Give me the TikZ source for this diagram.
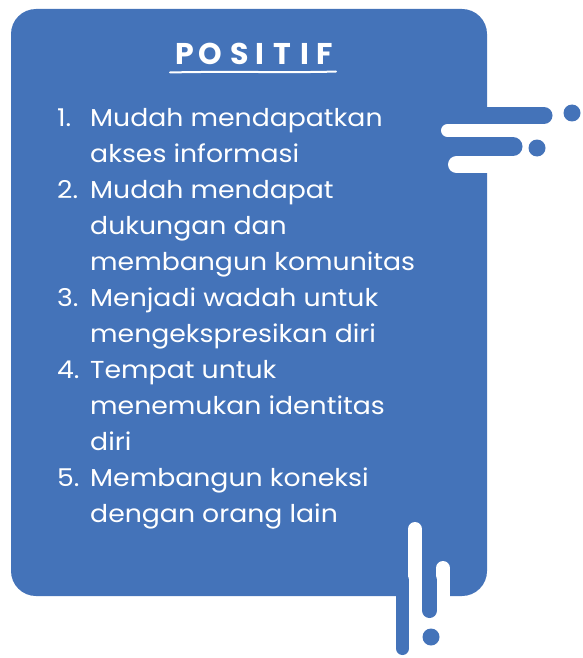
\documentclass[tikz,border=0pt]{standalone}
\usepackage{fontspec}
\setmainfont{Poppins}
\definecolor{boxblue}{RGB}{68,115,185}
\begin{document}
\begin{tikzpicture}[x=1pt,y=-1pt,
  itemtxt/.style={anchor=base west,inner sep=0pt,text=white,font=\fontsize{24.5}{28}\selectfont\addfontfeatures{FakeStretch=1.09}},
  titlel/.style={anchor=base,inner sep=0pt,text=white,font=\fontsize{30}{32}\selectfont\bfseries},
  bluebar/.style={draw=boxblue,line cap=round},
  whitebar/.style={draw=white,line cap=round}]
\useasboundingbox (0,0) rectangle (583,658);
% main box
\fill[boxblue,rounded corners=25pt] (11,9) rectangle (487,596);
% white cuts
\draw[whitebar,line width=13pt] (447.5,130.5) -- (490,130.5);
\draw[whitebar,line width=17pt] (456.5,164.5) -- (490,164.5);
\draw[whitebar,line width=14pt] (415,529) -- (415,600);
\draw[whitebar,line width=14pt] (443,568) -- (443,600);
% blue extensions
\draw[bluebar,line width=17pt] (470,115.5) coordinate (b1s) -- (544,115.5) coordinate (b1e);
\draw[bluebar,line width=19pt] (470,146.5) coordinate (b2s) -- (513,146.5) coordinate (b2e);
\draw[bluebar,line width=13pt] (402.5,580) coordinate (s1s) -- (402.5,648.5) coordinate (s1e);
\draw[bluebar,line width=15pt] (429.5,580) coordinate (s2s) -- (429.5,610.5) coordinate (s2e);
% dots
\fill[boxblue] (572,113) circle (8.5pt);
\fill[boxblue] (537,148) circle (8.5pt);
\fill[boxblue] (431,637) circle (8.5pt);
% title
\node[titlel] (t1) at (185,65) {P};
\node[titlel] (t2) at (210,65) {O};
\node[titlel] (t3) at (240,65) {S};
\node[titlel] (t4) at (259.5,65) {I};
\node[titlel] (t5) at (282.5,65) {T};
\node[titlel] (t6) at (304.5,65) {I};
\node[titlel] (t7) at (325,65) {F};
\draw[white,line width=2pt,line cap=round] (170,72.5) .. controls (230,71) and (290,73) .. (336,71.5);
% items
\node[itemtxt] (n1) at (57,126) {1.};
\node[itemtxt] (l1) at (90,126) {Mudah mendapatkan};
\node[itemtxt] (l2) at (90,162) {akses informasi};
\node[itemtxt] (n2) at (57,198) {2.};
\node[itemtxt] (l3) at (90,198) {Mudah mendapat};
\node[itemtxt] (l4) at (90,234) {dukungan dan};
\node[itemtxt] (l5) at (90,270) {membangun komunitas};
\node[itemtxt] (n3) at (57,306) {3.};
\node[itemtxt] (l6) at (90,306) {Menjadi wadah untuk};
\node[itemtxt] (l7) at (90,342) {mengekspresikan diri};
\node[itemtxt] (n4) at (57,378) {4.};
\node[itemtxt] (l8) at (90,378) {Tempat untuk};
\node[itemtxt] (l9) at (90,414) {menemukan identitas};
\node[itemtxt] (l10) at (90,450) {diri};
\node[itemtxt] (n5) at (57,486) {5.};
\node[itemtxt] (l11) at (90,486) {Membangun koneksi};
\node[itemtxt] (l12) at (90,522) {dengan orang lain};
\end{tikzpicture}
\end{document}
